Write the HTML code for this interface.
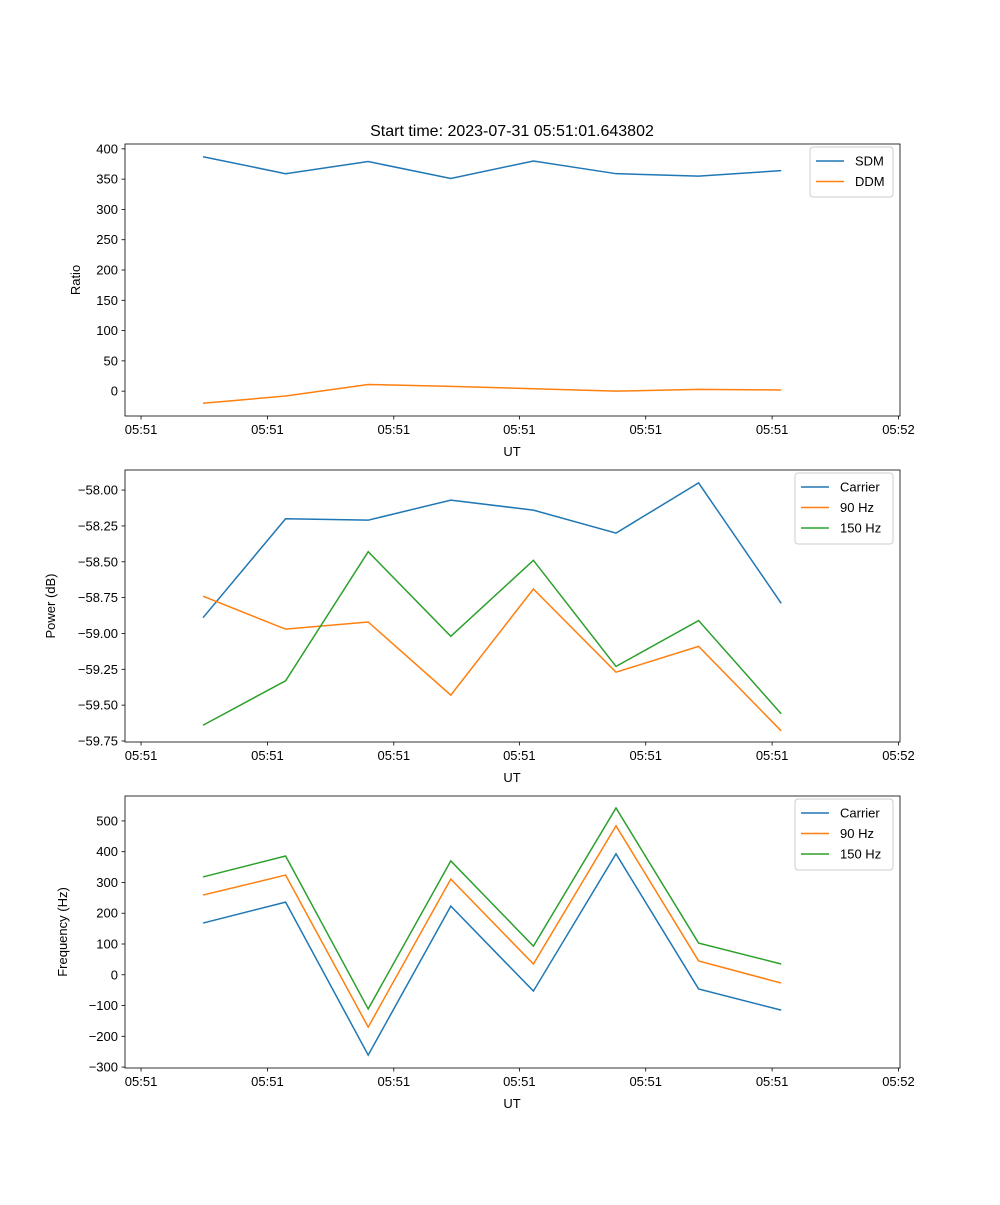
<!DOCTYPE html>
<html><head><meta charset="utf-8">
<style>
body{margin:0;background:#fff;}
svg{font-family:"Liberation Sans","DejaVu Sans",sans-serif;}
</style></head>
<body>
<svg id="fig" width="1000" height="1200" xmlns="http://www.w3.org/2000/svg">
<rect width="1000" height="1200" fill="#fff"/>
<text x="512" y="136" font-size="16" text-anchor="middle">Start time: 2023-07-31 05:51:01.643802</text>
</svg>
<script>
const xTickPos = [-0.75, 0.78, 2.31, 3.83, 5.36, 6.89, 8.42];
const xTickLabels = ["05:51","05:51","05:51","05:51","05:51","05:51","05:52"];
const sdm = [387,359,379,351,380,359,355,364];
const ddm = [-20,-8,11,8,4,0,3,2];
const powCarrier = [-58.89,-58.20,-58.21,-58.07,-58.14,-58.30,-57.95,-58.79];
const pow90 = [-58.74,-58.97,-58.92,-59.43,-58.69,-59.27,-59.09,-59.68];
const pow150 = [-59.64,-59.33,-58.43,-59.02,-58.49,-59.23,-58.91,-59.56];
const freqCarrier = [168,236,-261,223,-53,393,-46,-115];
const freq90 = [259,324,-170,311,35,484,45,-27];
const freq150 = [318,386,-111,370,93,542,103,35];
const ticks1 = [400,350,300,250,200,150,100,50,0];
const ticks2 = [-58.00,-58.25,-58.50,-58.75,-59.00,-59.25,-59.50,-59.75];
const ticks3 = [500,400,300,200,100,0,-100,-200,-300];

const NS="http://www.w3.org/2000/svg";
const svg=document.getElementById('fig');
function mk(tag,attrs,parent){const e=document.createElementNS(NS,tag);for(const k in attrs)e.setAttribute(k,attrs[k]);(parent||svg).appendChild(e);return e;}
const C=['#1f77b4','#ff7f0e','#2ca02c'];
const L=125,R=900;
const xs=i=>203+82.6*i;

function panel(top,bot,ymin,ymax,ticks,fmt,ylabel,series,names,legW,name){
  const g=mk('g',{});
  
  
  const ys=v=>bot-(v-ymin)/(ymax-ymin)*(bot-top);
  series.forEach((s,k)=>{
    const p=mk('polyline',{points:s.map((v,i)=>xs(i)+','+ys(v)).join(' '),fill:'none',stroke:C[k],'stroke-width':1.5},g);
    
    
  });
  mk('rect',{x:L,y:top,width:R-L,height:bot-top,fill:'none',stroke:'#000','stroke-width':0.8},g);
  ticks.forEach(t=>{
    const y=ys(t);
    mk('line',{x1:L-3.5,x2:L,y1:y,y2:y,stroke:'#000','stroke-width':0.8},g);
    const tx=mk('text',{x:L-7,y:y+4.5,'font-size':13,'text-anchor':'end'},g);
    tx.textContent=fmt(t);
    
    
  });
  xTickPos.forEach((p,i)=>{
    const x=xs(p);
    mk('line',{x1:x,x2:x,y1:bot,y2:bot+3.5,stroke:'#000','stroke-width':0.8},g);
    const tx=mk('text',{x:x,y:bot+18,'font-size':13,'text-anchor':'middle'},g);
    tx.textContent=xTickLabels[i];
    
    
  });
  const xl=mk('text',{x:512,y:bot+40,'font-size':13,'text-anchor':'middle'},g);
  xl.textContent='UT';
  
  
  const yc=(top+bot)/2;
  const yl=mk('text',{x:0,y:0,'font-size':13,'text-anchor':'middle',transform:`translate(${ylabel[1]},${yc}) rotate(-90)`},g);
  yl.textContent=ylabel[0];
  
  
  const lx=R-7-legW, ly=top+3, lh=8+names.length*21;
  const lg=mk('g',{},g);
  
  
  mk('rect',{x:lx,y:ly,width:legW,height:lh,rx:3,fill:'#fff',stroke:'#ccc'},lg);
  names.forEach((n,k)=>{
    const yy=ly+14+k*20.5;
    mk('line',{x1:lx+6,x2:lx+34,y1:yy,y2:yy,stroke:C[k],'stroke-width':1.5},lg);
    const t=mk('text',{x:lx+45,y:yy+4.5,'font-size':13},lg);
    t.textContent=n;
    
    
  });
}
panel(144,416,-41,408,ticks1,v=>String(v),['Ratio',80],[sdm,ddm],['SDM','DDM'],83,'ratio-panel');
panel(470,742,-59.757,-57.86,ticks2,v=>(v<0?'\u2212':'')+Math.abs(v).toFixed(2),['Power (dB)',55],[powCarrier,pow90,pow150],['Carrier','90 Hz','150 Hz'],98,'power-panel');
panel(796,1068,-303,581,ticks3,v=>(v<0?'\u2212':'')+Math.abs(v),['Frequency (Hz)',67],[freqCarrier,freq90,freq150],['Carrier','90 Hz','150 Hz'],98,'frequency-panel');
</script>
</body></html>
